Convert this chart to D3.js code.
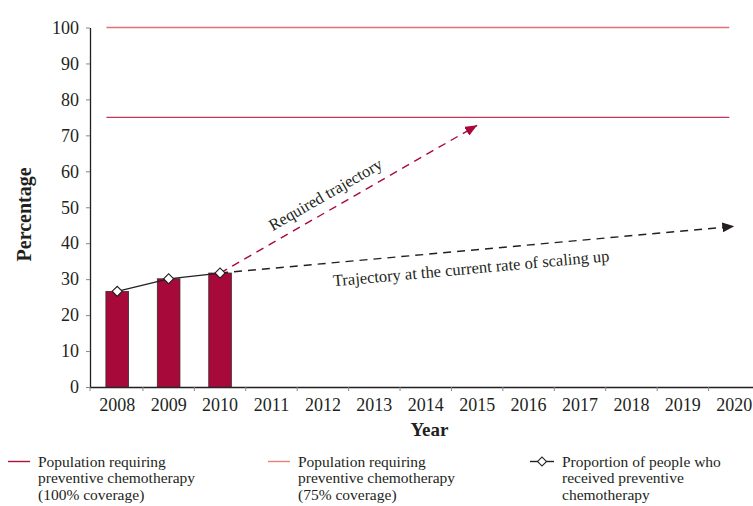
<!DOCTYPE html>
<html>
<head>
<meta charset="utf-8">
<script src="https://cdn.jsdelivr.net/npm/d3@7"></script>
<style>
  html, body { margin: 0; padding: 0; background: #fff; }
  svg { display: block; }
  text { font-family: "Liberation Serif", "DejaVu Serif", serif; fill: #231f20; }
</style>
</head>
<body>
<svg id="chart" width="753" height="506"></svg>
<script>
// Years shown on the horizontal axis
const years = ["2008","2009","2010","2011","2012","2013","2014","2015","2016","2017","2018","2019","2020"];
// Proportion of people who received preventive chemotherapy (%)
const receivedYears = ["2008","2009","2010"];
const receivedValues = [26.6, 30.1, 31.7];
// Coverage targets (%)
const targetFull = 100;
const targetThreeQuarter = 75;
// Projected trajectories from the last observed year: [start year, start %, end year, end %]
const requiredTrajectory = ["2010", 31.7, "2015", 72.8];
const currentTrajectory = ["2010", 31.7, "2020", 44.7];
// Axis ticks
const yTicks = [0,10,20,30,40,50,60,70,80,90,100];

const svg = d3.select("#chart");
const margin = {left: 90, top: 27.5, bottom: 387, right: 759};

const x = d3.scaleBand().domain(years).range([margin.left + 1.5, margin.right + 1]).padding(0);
const y = d3.scaleLinear().domain([0, 100]).range([margin.bottom, margin.top]);
const bw = x.bandwidth();
const cx = d => x(d) + bw / 2;

const crimson = "#a8093b";

// arrow markers
const defs = svg.append("defs");
function arrow(id, color) {
  defs.append("marker")
    .attr("id", id)
    .attr("viewBox", "0 0 12 10")
    .attr("refX", 12).attr("refY", 5)
    .attr("markerWidth", 12).attr("markerHeight", 10)
    .attr("markerUnits", "userSpaceOnUse")
    .attr("orient", "auto")
    .append("path").attr("d", "M0,0 L12,5 L0,10 Z").attr("fill", color);
}
arrow("arrowRed", crimson);
arrow("arrowBlack", "#231f20");

// y axis
const yAxis = svg.append("g")
  .attr("transform", `translate(${margin.left},0)`)
  .call(d3.axisLeft(y).tickValues(yTicks).tickSize(4).tickPadding(7).tickSizeOuter(0));
yAxis.select(".domain").attr("stroke", "#231f20").attr("stroke-width", 1.3);
yAxis.selectAll(".tick line").attr("stroke", "#888").attr("stroke-width", 1);
yAxis.selectAll(".tick text").attr("font-size", 18).attr("font-family", "Liberation Serif").attr("fill", "#231f20");

// x axis: labels centred in each band, tick marks on the band boundaries
const xAxis = svg.append("g")
  .attr("transform", `translate(0,${margin.bottom})`)
  .call(d3.axisBottom(x).tickSize(0).tickPadding(11).tickSizeOuter(0));
xAxis.select(".domain").attr("d", `M${margin.left},0.5H${margin.right}`)
  .attr("stroke", "#231f20").attr("stroke-width", 1.3);
xAxis.selectAll(".tick text").attr("font-size", 18).attr("font-family", "Liberation Serif").attr("fill", "#231f20");
xAxis.selectAll(".sep").data(years).enter().append("line")
  .attr("class", "sep")
  .attr("x1", (d, i) => i === 0 ? margin.left : x(d))
  .attr("x2", (d, i) => i === 0 ? margin.left : x(d))
  .attr("y1", 0).attr("y2", 4)
  .attr("stroke", "#888").attr("stroke-width", 1);

// axis titles
svg.append("text")
  .attr("transform", `translate(31,${y(48)}) rotate(-90)`)
  .attr("text-anchor", "middle")
  .attr("font-weight", "bold").attr("font-size", 20)
  .text("Percentage");
svg.append("text")
  .attr("x", (margin.left + margin.right) / 2 + 5).attr("y", 436)
  .attr("text-anchor", "middle")
  .attr("font-weight", "bold").attr("font-size", 19)
  .text("Year");

// coverage target lines
const lineStart = x(years[0]) + bw * 0.29;
const lineEnd = cx(years[years.length - 1]) - 5;
svg.append("line")
  .attr("x1", lineStart).attr("x2", lineEnd)
  .attr("y1", y(targetFull)).attr("y2", y(targetFull))
  .attr("stroke", "#e36f78").attr("stroke-width", 1.4);
svg.append("line")
  .attr("x1", lineStart).attr("x2", lineEnd)
  .attr("y1", y(targetThreeQuarter)).attr("y2", y(targetThreeQuarter))
  .attr("stroke", "#c4355a").attr("stroke-width", 1.4);

// bars
const barW = bw * 0.44;
svg.selectAll(".bar").data(receivedYears).enter().append("rect")
  .attr("class", "bar")
  .attr("x", (d) => cx(d) - barW / 2)
  .attr("width", barW)
  .attr("y", (d, i) => y(receivedValues[i]))
  .attr("height", (d, i) => y(0) - y(receivedValues[i]))
  .attr("fill", crimson)
  .attr("stroke", "#3a2a2d").attr("stroke-width", 0.8);

// trajectories
function trajectory(t, color, markerId) {
  const x1 = cx(t[0]), y1 = y(t[1]), x2 = cx(t[2]), y2 = y(t[3]);
  svg.append("line")
    .attr("x1", x1).attr("y1", y1).attr("x2", x2).attr("y2", y2)
    .attr("stroke", color).attr("stroke-width", 1.4)
    .attr("stroke-dasharray", "8,6")
    .attr("marker-end", `url(#${markerId})`);
  return {x1, y1, x2, y2};
}
const req = trajectory(requiredTrajectory, crimson, "arrowRed");
const cur = trajectory(currentTrajectory, "#231f20", "arrowBlack");

// label placed along a trajectory at fraction t, offset perpendicular by off px
function trajLabel(seg, t, off, txt) {
  const dx = seg.x2 - seg.x1, dy = seg.y2 - seg.y1;
  const len = Math.hypot(dx, dy);
  const nx = dy / len, ny = -dx / len; // normal pointing up/left
  const px = seg.x1 + dx * t + nx * off;
  const py = seg.y1 + dy * t + ny * off;
  const ang = Math.atan2(dy, dx) * 180 / Math.PI;
  svg.append("text")
    .attr("transform", `translate(${px},${py}) rotate(${ang})`)
    .attr("text-anchor", "middle")
    .attr("font-size", 16.5)
    .text(txt);
}
trajLabel(req, 0.44, 10, "Required trajectory");
trajLabel(cur, 0.485, -23.5, "Trajectory at the current rate of scaling up");

// observed proportion line with diamond markers
const pts = receivedYears.map((d, i) => [cx(d), y(receivedValues[i])]);
svg.append("path")
  .attr("d", d3.line()(pts))
  .attr("fill", "none").attr("stroke", "#231f20").attr("stroke-width", 1.3);
svg.selectAll(".pt").data(pts).enter().append("path")
  .attr("class", "pt")
  .attr("d", d3.symbol().type(d3.symbolSquare).size(50))
  .attr("transform", d => `translate(${d[0]},${d[1]}) rotate(45)`)
  .attr("fill", "#fff").attr("stroke", "#231f20").attr("stroke-width", 1.1);

// legend
const legend = [
  {x: 8, color: "#b0103a", lines: ["Population requiring", "preventive chemotherapy", "(100% coverage)"], marker: false},
  {x: 268, color: "#e8807a", lines: ["Population requiring", "preventive chemotherapy", "(75% coverage)"], marker: false},
  {x: 530, color: "#231f20", lines: ["Proportion of people who", "received preventive", "chemotherapy"], marker: true}
];
const lg = svg.selectAll(".lg").data(legend).enter().append("g").attr("class", "lg");
lg.append("line")
  .attr("x1", d => d.x).attr("x2", d => d.x + (d.marker ? 24 : 22))
  .attr("y1", 461.5).attr("y2", 461.5)
  .attr("stroke", d => d.color).attr("stroke-width", 1.4);
lg.filter(d => d.marker).append("path")
  .attr("transform", d => `translate(${d.x + 12},461.5) rotate(45)`)
  .attr("d", d3.symbol().type(d3.symbolSquare).size(40))
  .attr("fill", "#fff").attr("stroke", "#231f20").attr("stroke-width", 1.1);
lg.each(function(d) {
  const tx = d.x + (d.marker ? 32 : 30);
  const t = d3.select(this).append("text")
    .attr("x", tx).attr("y", 466.5)
    .attr("font-size", 15.5);
  d.lines.forEach((s, i) => {
    t.append("tspan").attr("x", tx).attr("dy", i === 0 ? 0 : 16.5).text(s);
  });
});
</script>
</body>
</html>
